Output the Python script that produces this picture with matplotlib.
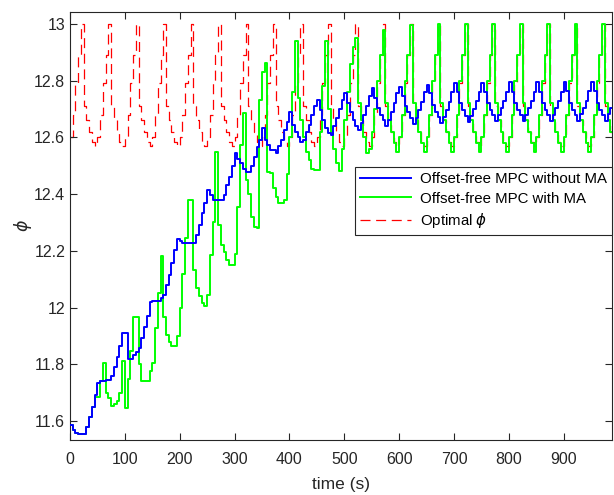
import numpy as np
import matplotlib
matplotlib.use("Agg")
import matplotlib.pyplot as plt

plt.rcParams['font.family'] = ['Liberation Sans', 'DejaVu Sans']

time_s = np.arange(0, 995, 5)

phi_no_ma = [
    11.586, 11.570, 11.556, 11.554, 11.554, 11.555, 11.580, 11.613, 11.650, 11.690,
    11.733, 11.740, 11.740, 11.745, 11.745, 11.757, 11.790, 11.827, 11.866, 11.910,
    11.912, 11.819, 11.819, 11.833, 11.845, 11.857, 11.892, 11.933, 11.970, 12.020,
    12.024, 12.024, 12.024, 12.033, 12.045, 12.080, 12.115, 12.156, 12.204, 12.240,
    12.233, 12.227, 12.227, 12.227, 12.227, 12.227, 12.256, 12.290, 12.333, 12.370,
    12.415, 12.398, 12.380, 12.380, 12.378, 12.380, 12.398, 12.433, 12.460, 12.500,
    12.546, 12.523, 12.510, 12.490, 12.478, 12.478, 12.500, 12.532, 12.567, 12.590,
    12.632, 12.590, 12.573, 12.556, 12.556, 12.544, 12.570, 12.590, 12.626, 12.655,
    12.690, 12.644, 12.620, 12.603, 12.585, 12.590, 12.620, 12.645, 12.680, 12.710,
    12.732, 12.697, 12.660, 12.632, 12.614, 12.608, 12.640, 12.670, 12.700, 12.730,
    12.756, 12.720, 12.690, 12.660, 12.640, 12.626, 12.650, 12.680, 12.710, 12.745,
    12.773, 12.740, 12.705, 12.680, 12.660, 12.640, 12.660, 12.690, 12.720, 12.755,
    12.779, 12.745, 12.710, 12.690, 12.670, 12.647, 12.670, 12.695, 12.725, 12.760,
    12.785, 12.755, 12.715, 12.690, 12.672, 12.650, 12.672, 12.698, 12.725, 12.760,
    12.790, 12.760, 12.720, 12.695, 12.677, 12.655, 12.677, 12.700, 12.727, 12.760,
    12.793, 12.760, 12.720, 12.697, 12.679, 12.658, 12.680, 12.703, 12.728, 12.761,
    12.795, 12.761, 12.720, 12.697, 12.679, 12.658, 12.680, 12.703, 12.728, 12.761,
    12.795, 12.761, 12.720, 12.697, 12.679, 12.658, 12.680, 12.703, 12.728, 12.761,
    12.796, 12.762, 12.721, 12.698, 12.680, 12.659, 12.681, 12.704, 12.729, 12.762,
    12.796, 12.762, 12.721, 12.698, 12.680, 12.659, 12.681, 12.704, 12.729,
]

phi_ma = [
    11.586, 11.570, 11.556, 11.554, 11.554, 11.555, 11.580, 11.613, 11.650, 11.686,
    11.686, 11.740, 11.806, 11.697, 11.680, 11.653, 11.660, 11.670, 11.700, 11.810,
    11.647, 11.747, 11.848, 11.966, 11.966, 11.800, 11.742, 11.742, 11.742, 11.775,
    11.806, 11.927, 12.050, 12.180, 11.968, 11.903, 11.880, 11.866, 11.866, 11.900,
    11.998, 12.118, 12.245, 12.380, 12.380, 12.133, 12.068, 12.040, 12.017, 12.005,
    12.044, 12.186, 12.300, 12.550, 12.290, 12.220, 12.197, 12.168, 12.150, 12.150,
    12.190, 12.356, 12.573, 12.685, 12.450, 12.400, 12.320, 12.285, 12.280, 12.732,
    12.832, 12.861, 12.479, 12.473, 12.420, 12.390, 12.370, 12.370, 12.380, 12.470,
    12.600, 12.760, 12.940, 12.740, 12.660, 12.600, 12.550, 12.520, 12.490, 12.485,
    12.485, 12.620, 12.780, 12.940, 12.700, 12.620, 12.560, 12.510, 12.480, 12.560,
    12.660, 12.760, 12.860, 12.920, 12.950, 12.720, 12.660, 12.600, 12.544, 12.560,
    12.620, 12.700, 12.800, 12.890, 12.980, 12.720, 12.660, 12.620, 12.580, 12.550,
    12.600, 12.680, 12.800, 12.890, 12.996, 12.720, 12.660, 12.620, 12.580, 12.550,
    12.600, 12.680, 12.800, 12.890, 13.000, 12.720, 12.660, 12.620, 12.580, 12.550,
    12.600, 12.680, 12.800, 12.890, 13.000, 12.720, 12.660, 12.620, 12.580, 12.550,
    12.600, 12.680, 12.800, 12.890, 13.000, 12.720, 12.660, 12.620, 12.580, 12.550,
    12.600, 12.680, 12.800, 12.890, 13.000, 12.720, 12.660, 12.620, 12.580, 12.550,
    12.600, 12.680, 12.800, 12.890, 13.000, 12.720, 12.660, 12.620, 12.580, 12.550,
    12.600, 12.680, 12.800, 12.890, 13.000, 12.720, 12.660, 12.620, 12.580, 12.550,
    12.600, 12.680, 12.800, 12.890, 13.000, 12.720, 12.660, 12.620, 12.580,
]

phi_opt = [
    12.600, 12.680, 12.790, 12.890, 13.000, 12.710, 12.660, 12.620, 12.585, 12.570,
    12.600, 12.680, 12.790, 12.890, 13.000, 12.710, 12.660, 12.620, 12.585, 12.570,
    12.600, 12.680, 12.790, 12.890, 13.000, 12.710, 12.660, 12.620, 12.585, 12.570,
    12.600, 12.680, 12.790, 12.890, 13.000, 12.710, 12.660, 12.620, 12.585, 12.570,
    12.600, 12.680, 12.790, 12.890, 13.000, 12.710, 12.660, 12.620, 12.585, 12.570,
    12.600, 12.680, 12.790, 12.890, 13.000, 12.710, 12.660, 12.620, 12.585, 12.570,
    12.600, 12.680, 12.790, 12.890, 13.000, 12.710, 12.660, 12.620, 12.585, 12.570,
    12.600, 12.680, 12.790, 12.890, 13.000, 12.710, 12.660, 12.620, 12.585, 12.570,
    12.600, 12.680, 12.790, 12.890, 13.000, 12.710, 12.660, 12.620, 12.585, 12.570,
    12.600, 12.680, 12.790, 12.890, 13.000, 12.710, 12.660, 12.620, 12.585, 12.570,
    12.600, 12.680, 12.790, 12.890, 13.000, 12.710, 12.660, 12.620, 12.585, 12.570,
    12.600, 12.680, 12.790, 12.890, 13.000, 12.710, 12.660, 12.620, 12.585, 12.570,
    12.600, 12.680, 12.790, 12.890, 13.000, 12.710, 12.660, 12.620, 12.585, 12.570,
    12.600, 12.680, 12.790, 12.890, 13.000, 12.710, 12.660, 12.620, 12.585, 12.570,
    12.600, 12.680, 12.790, 12.890, 13.000, 12.710, 12.660, 12.620, 12.585, 12.570,
    12.600, 12.680, 12.790, 12.890, 13.000, 12.710, 12.660, 12.620, 12.585, 12.570,
    12.600, 12.680, 12.790, 12.890, 13.000, 12.710, 12.660, 12.620, 12.585, 12.570,
    12.600, 12.680, 12.790, 12.890, 13.000, 12.710, 12.660, 12.620, 12.585, 12.570,
    12.600, 12.680, 12.790, 12.890, 13.000, 12.710, 12.660, 12.620, 12.585, 12.570,
    12.600, 12.680, 12.790, 12.890, 13.000, 12.710, 12.660, 12.620, 12.585,
]

x_ticks = [0, 100, 200, 300, 400, 500, 600, 700, 800, 900]
y_ticks = [11.6, 11.8, 12.0, 12.2, 12.4, 12.6, 12.8, 13.0]
y_tick_labels = ["11.6", "11.8", "12", "12.2", "12.4", "12.6", "12.8", "13"]

fig = plt.figure(figsize=(6.14, 4.95), dpi=100)
ax = fig.add_axes([70 / 614, 1 - 440 / 495, 542 / 614, 428 / 495])

ax.plot(time_s, phi_opt, color=(1, 0, 0), lw=0.9, linestyle=(0, (8, 4.5)),
        drawstyle='steps-post', zorder=1, label=r'Optimal $\phi$')
ax.plot(time_s, phi_ma, color=(0, 1, 0), lw=1.4, drawstyle='steps-post',
        zorder=2, label='Offset-free MPC with MA')
ax.plot(time_s, phi_no_ma, color=(0, 0, 1), lw=1.4, drawstyle='steps-post',
        zorder=3, label='Offset-free MPC without MA')

ax.set_xlim(0, 988)
ax.set_ylim(11.533, 13.042)
ax.set_xticks(x_ticks)
ax.set_yticks(y_ticks)
ax.set_yticklabels(y_tick_labels)
ax.tick_params(direction='in', top=True, right=True, labelsize=11.5,
               length=5, width=0.8, colors='#262626')
ax.tick_params(axis='x', pad=9)
for s in ax.spines.values():
    s.set_color('#262626')
    s.set_linewidth(0.8)

ax.set_xlabel('time (s)', fontsize=12.5, color='#262626', labelpad=7)
ax.set_ylabel(r'$\phi$', fontsize=12.5, color='#262626', labelpad=0)

handles, labels = ax.get_legend_handles_labels()
order = [2, 1, 0]
leg = ax.legend([handles[i] for i in order], [labels[i] for i in order],
                loc='upper right', bbox_to_anchor=(1.0, 0.638), borderaxespad=0,
                fontsize=10.8, fancybox=False, framealpha=1, edgecolor='#262626',
                handlelength=3.4, handletextpad=0.6, borderpad=0.35,
                labelspacing=0.36)
leg.get_frame().set_linewidth(0.8)

fig.savefig('out.png', dpi=100)
